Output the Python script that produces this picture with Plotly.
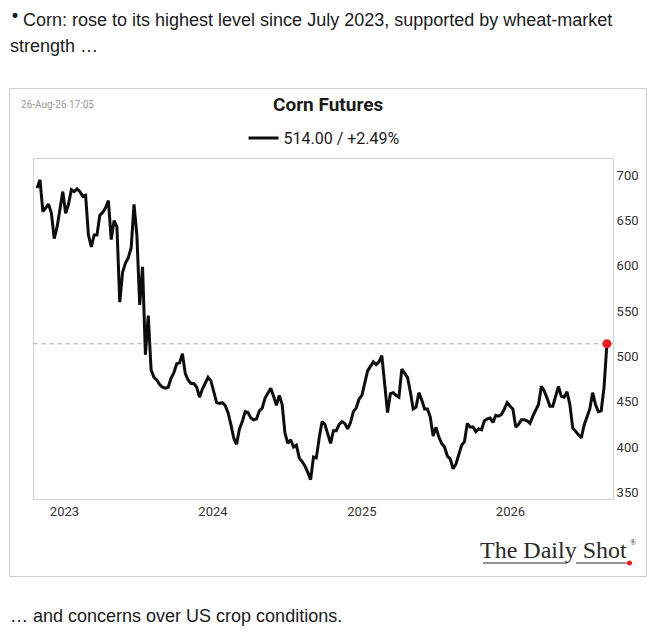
import pandas as pd
import plotly.graph_objects as go

# weekly corn futures closes (front month)
corn_close = [
    686, 695, 660, 664, 668, 658, 630, 643, 664, 682,
    658, 668, 684, 682, 685, 682, 677, 678, 634, 621,
    634, 634, 656, 659, 664, 672, 629, 650, 643, 560,
    593, 603, 609, 620, 668, 634, 557, 599, 502, 545,
    485, 477, 474, 469, 466, 465, 466, 476, 482, 492,
    493, 503, 481, 474, 470, 470, 466, 455, 464, 471,
    477, 473, 462, 449, 448, 449, 446, 438, 425, 410,
    403, 420, 428, 439, 438, 432, 430, 431, 440, 443,
    454, 459, 465, 456, 446, 457, 447, 415, 404, 408,
    400, 402, 388, 384, 379, 372, 364, 389, 388, 410,
    428, 425, 414, 404, 418, 418, 425, 428, 426, 420,
    427, 439, 443, 453, 457, 470, 484, 489, 494, 491,
    494, 501, 466, 438, 459, 460, 457, 455, 486, 482,
    477, 461, 442, 444, 460, 452, 442, 442, 433, 412,
    422, 411, 404, 400, 390, 387, 376, 381, 392, 402,
    406, 426, 422, 422, 417, 420, 419, 429, 431, 432,
    427, 435, 434, 436, 442, 449, 445, 442, 422, 425,
    430, 430, 429, 426, 434, 440, 447, 467, 462, 454,
    445, 445, 455, 467, 456, 455, 461, 447, 421, 417,
    414, 410, 424, 433, 442, 460, 447, 439, 440, 466,
    514,
]
dates = pd.date_range(end="2026-08-26", periods=len(corn_close), freq="7D")

year_ticks = ["2023-01-01", "2024-01-01", "2025-01-01", "2026-01-01"]
year_labels = ["2023", "2024", "2025", "2026"]
price_ticks = [350, 400, 450, 500, 550, 600, 650, 700]

last_val = corn_close[-1]
legend_name = f"{last_val:.2f} / +2.49%"

W, H = 652, 632


def px_x(x):
    return x / W


def px_y(y):
    return 1 - y / H


fig = go.Figure()

fig.add_trace(go.Scatter(
    x=dates, y=corn_close,
    mode="lines",
    name=legend_name,
    line=dict(color="#0d0d0d", width=3),
    hoverinfo="skip",
))

# last value marker
fig.add_trace(go.Scatter(
    x=[dates[-1]], y=[last_val],
    mode="markers",
    marker=dict(color="#ee1c1c", size=9),
    showlegend=False,
    hoverinfo="skip",
))

# dashed reference line at the latest value
fig.add_shape(
    type="line", xref="x", yref="y",
    x0="2022-10-17", x1="2026-09-10", y0=last_val, y1=last_val,
    line=dict(color="#a0a0a0", width=1, dash="4px,4px"),
    layer="below",
)

# outer frame of the chart card
fig.add_shape(
    type="rect", xref="paper", yref="paper",
    x0=px_x(9.5), x1=px_x(646.5), y0=px_y(576.5), y1=px_y(88.5),
    line=dict(color="#cfcfcf", width=1),
)

body_font = dict(size=18, color="#1a1a1a", family="Liberation Sans")
annotations = [
    dict(text="•", x=px_x(8), y=px_y(16), font=dict(size=17, color="#1a1a1a", family="DejaVu Sans")),
    dict(text="Corn: rose to its highest level since July 2023, supported by wheat-market",
         x=px_x(21), y=px_y(20), font=body_font),
    dict(text="strength …",
         x=px_x(8), y=px_y(46), font=body_font),
    dict(text="… and concerns over US crop conditions.",
         x=px_x(8), y=px_y(616), font=body_font),
    dict(text="26-Aug-26 17:05",
         x=px_x(19), y=px_y(104), font=dict(size=10, color="#9a9a9a", family="Roboto")),
    dict(text="<b>Corn Futures</b>", xanchor="center",
         x=px_x(328), y=px_y(104), font=dict(size=19, color="#1a1a1a", family="Roboto")),
    dict(text="The Daily Shot", xanchor="right",
         x=px_x(629), y=px_y(550), font=dict(size=24, color="#2a2a2a", family="Liberation Serif")),
    dict(text="®", x=px_x(628), y=px_y(542),
         font=dict(size=8, color="#2a2a2a", family="Liberation Serif")),
]
for a in annotations:
    a.setdefault("xanchor", "left")
    fig.add_annotation(xref="paper", yref="paper", yanchor="middle",
                       showarrow=False, **a)

# logo underline + red dot
fig.add_shape(type="line", xref="paper", yref="paper",
              x0=px_x(483), x1=px_x(567), y0=px_y(563), y1=px_y(563),
              line=dict(color="#2a2a2a", width=1))
fig.add_shape(type="line", xref="paper", yref="paper",
              x0=px_x(576), x1=px_x(628), y0=px_y(563), y1=px_y(563),
              line=dict(color="#2a2a2a", width=1))
fig.add_shape(type="circle", xref="paper", yref="paper",
              x0=px_x(627), x1=px_x(632), y0=px_y(565.5), y1=px_y(560.5),
              fillcolor="#ee1c1c", line=dict(width=0))

fig.update_layout(
    width=W, height=H,
    autosize=False,
    margin=dict(l=0, r=0, t=0, b=0),
    paper_bgcolor="white",
    plot_bgcolor="white",
    font=dict(family="Roboto", color="#333333", size=12),
    showlegend=True,
    legend=dict(
        orientation="h",
        x=px_x(324), xanchor="center",
        y=px_y(138), yanchor="middle",
        font=dict(size=16, color="#1a1a1a"),
        itemwidth=30,
        bgcolor="rgba(0,0,0,0)",
    ),
    xaxis=dict(
        domain=[px_x(33.5), px_x(613)],
        type="date",
        range=["2022-10-17", "2026-09-10"],
        tickvals=year_ticks,
        ticktext=year_labels,
        ticks="",
        showgrid=False,
        zeroline=False,
        showline=True, mirror=True,
        linecolor="#d2d2d2", linewidth=1,
        tickfont=dict(size=13, color="#333333"),
    ),
    yaxis=dict(
        domain=[px_y(499), px_y(159)],
        range=[342.6, 718],
        side="right",
        tickvals=price_ticks,
        ticks="",
        showgrid=False,
        zeroline=False,
        showline=True, mirror=True,
        linecolor="#d2d2d2", linewidth=1,
        tickfont=dict(size=13, color="#333333"),
    ),
)

fig.write_html("out.html",
               config={"displayModeBar": False},
               post_script="document.body.style.margin='0';document.body.style.overflow='hidden';")
